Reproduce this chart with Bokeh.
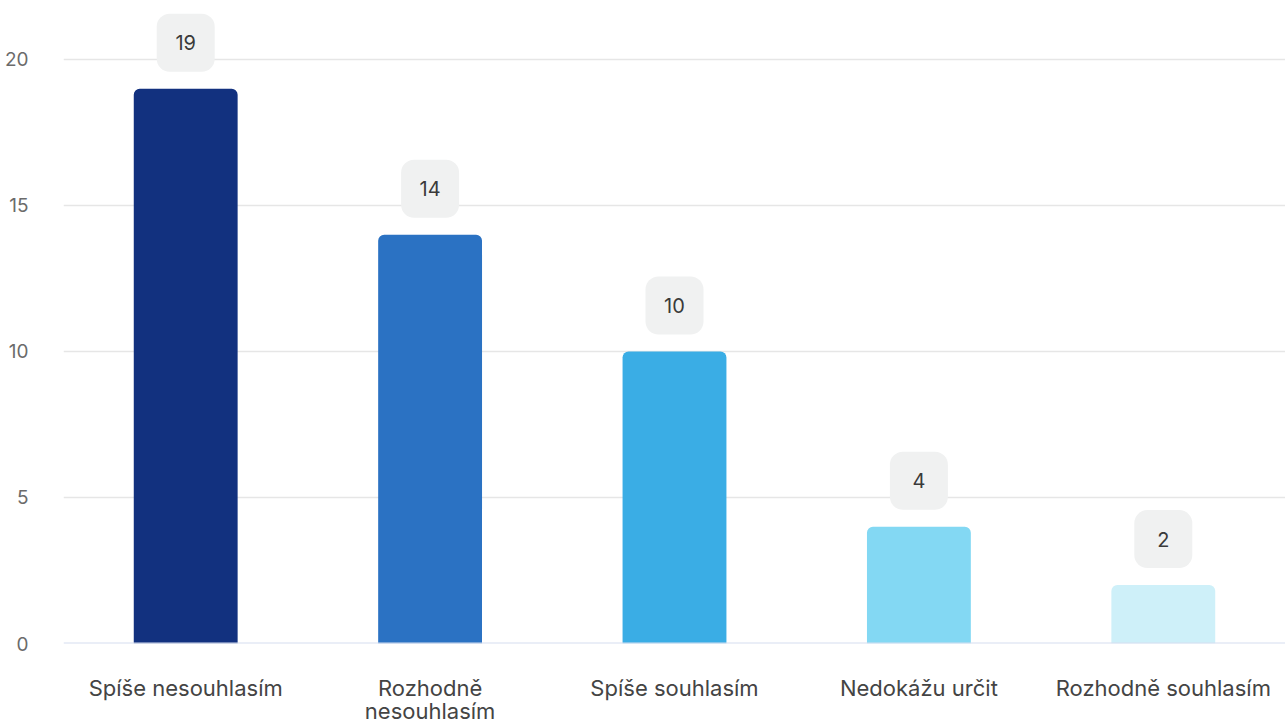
from bokeh.plotting import figure
from bokeh.models import FactorRange, Range1d, ColumnDataSource, Span
from bokeh.core.properties import value
from bokeh.embed import file_html
from bokeh.resources import INLINE

categories = ["Spíše nesouhlasím", "Rozhodně\nnesouhlasím", "Spíše souhlasím",
              "Nedokážu určit", "Rozhodně souhlasím"]
counts = [19, 14, 10, 4, 2]
colors = ["#12317f", "#2b72c3", "#3aade5", "#83d8f3", "#cef0f9"]
y_ticks = [0, 5, 10, 15, 20]

W, H = 1285, 727
ML, MB, MT, MR = 63, 84, 0, 0
Y_END = 22.02

p = figure(width=W, height=H, output_backend="svg", toolbar_location=None,
           x_range=FactorRange(*categories, range_padding=0),
           y_range=Range1d(0, Y_END),
           min_border_left=ML, min_border_right=MR, min_border_top=MT,
           min_border_bottom=MB)
p.outline_line_color = None
p.background_fill_color = "white"
p.border_fill_color = "white"

src = ColumnDataSource(dict(cat=categories, val=counts, col=colors))
p.vbar(x="cat", top="val", width=0.425, source=src, fill_color="col",
       line_color=None, border_radius=(6, 6, 0, 0))

# value label boxes
plot_h = H - MB - MT
px_per_unit = plot_h / Y_END
offset = 46 / px_per_unit
lab = ColumnDataSource(dict(cat=categories, y=[c + offset for c in counts],
                            txt=[str(c) for c in counts]))
p.rect(x="cat", y="y", width=58, height=58, width_units="screen",
       height_units="screen", source=lab, fill_color="#f0f1f1",
       line_color=None, border_radius=13)
p.text(x="cat", y="y", text="txt", source=lab, text_align="center",
       text_baseline="middle", text_font=value("Inter"),
       text_font_size="20px", text_color="#3a3a3a")

# axes
p.yaxis.ticker = y_ticks
p.yaxis.axis_line_color = None
p.yaxis.major_tick_line_color = None
p.yaxis.minor_tick_line_color = None
p.yaxis.major_label_standoff = 29
p.yaxis.major_label_text_font = "Inter"
p.yaxis.major_label_text_font_size = "19px"
p.yaxis.major_label_text_color = "#6b6b6b"

p.xaxis.axis_line_color = None
p.xaxis.major_tick_line_color = None
p.xaxis.minor_tick_line_color = None
p.xaxis.major_label_standoff = 25
p.xaxis.major_label_text_font = "Inter"
p.xaxis.major_label_text_font_size = "22px"
p.xaxis.major_label_text_color = "#444444"
p.xaxis.major_label_text_line_height = 0.91

p.xgrid.grid_line_color = None
p.ygrid.grid_line_color = "#e6e6e6"
p.ygrid.grid_line_width = 1.5

p.add_layout(Span(location=0, dimension="width", line_color="#d6ddef",
                  line_width=2))

open("out.html", "w").write(file_html(p, INLINE))
